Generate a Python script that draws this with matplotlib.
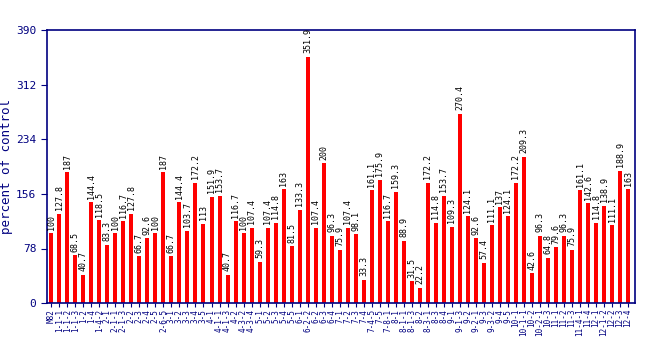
import numpy as np
import matplotlib.pyplot as plt

labels = ["M82", "1-1-1", "1-1-2", "1-1-3", "1-2", "1-4", "1-4-2", "2-1", "2-1-1",
          "2-1-3", "2-2", "2-3", "2-4", "2-5", "2-6-5", "3-1", "3-2", "3-3", "3-4",
          "3-5", "4-1", "4-1-1", "4-1-3", "4-2", "4-3-2", "4-3-4", "5-1", "5-2",
          "5-3", "5-4", "5-5", "6-1", "6-2-2", "6-2", "6-3", "6-4", "7-1", "7-2",
          "7-3", "7-4", "7-4-5", "7-5", "7-8-1", "8-1", "8-1-1", "8-1-3", "8-2",
          "8-3-1", "8-3", "8-4", "9-1", "9-1-3", "9-2", "9-2-1", "9-3", "9-3-2",
          "9-4", "9-5", "10-1", "10-1-1", "10-2", "10-2-1", "10-3", "11-1", "11-2",
          "11-3", "11-4-1", "11-4", "12-1", "12-1-2", "12-2", "12-3", "12-4"]

values = [100, 127.8, 187, 68.5, 40.7, 144.4, 118.5, 83.3, 100, 116.7, 127.8, 66.7,
          92.6, 100, 187, 66.7, 144.4, 103.7, 172.2, 113, 151.9, 153.7, 40.7, 116.7,
          100, 107.4, 59.3, 107.4, 114.8, 163, 81.5, 133.3, 351.9, 107.4, 200, 96.3,
          75.9, 107.4, 98.1, 33.3, 161.1, 175.9, 116.7, 159.3, 88.9, 31.5, 22.2, 172.2,
          114.8, 153.7, 109.3, 270.4, 124.1, 92.6, 57.4, 111.1, 137, 124.1, 172.2,
          209.3, 42.6, 96.3, 64.8, 79.6, 96.3, 75.9, 161.1, 142.6, 114.8, 138.9,
          111.1, 188.9, 163]

navy = "#000080"
mono = "DejaVu Sans Mono"

fig = plt.figure(figsize=(6.5, 3.5), dpi=100)
ax = fig.add_axes([0.072, 0.134, 0.905, 0.78])

x = np.arange(len(values))
ax.bar(x, values, width=0.5, color="#ff0000")

for xi, v in zip(x, values):
    ax.text(xi, v + 5, f"{v:g}", rotation=90, ha="center", va="bottom",
            fontsize=6, family=mono, color="black")

ax.set_xlim(-0.56, len(values) - 0.13)
ax.set_ylim(0, 390)
ax.set_yticks([0, 78, 156, 234, 312, 390])
ax.set_xticks(x)
ax.set_xticklabels(labels, rotation=90, fontsize=5.5, family=mono, color=navy)
ax.tick_params(axis="y", labelsize=8, colors=navy, length=4)
ax.tick_params(axis="x", colors=navy, length=3, pad=1)
for lbl in ax.get_yticklabels():
    lbl.set_family(mono)
ax.set_ylabel("percent of control", family=mono, fontsize=9, color=navy, labelpad=2)
for s in ax.spines.values():
    s.set_color(navy)
    s.set_linewidth(1.2)

fig.savefig("out.png", dpi=100)
